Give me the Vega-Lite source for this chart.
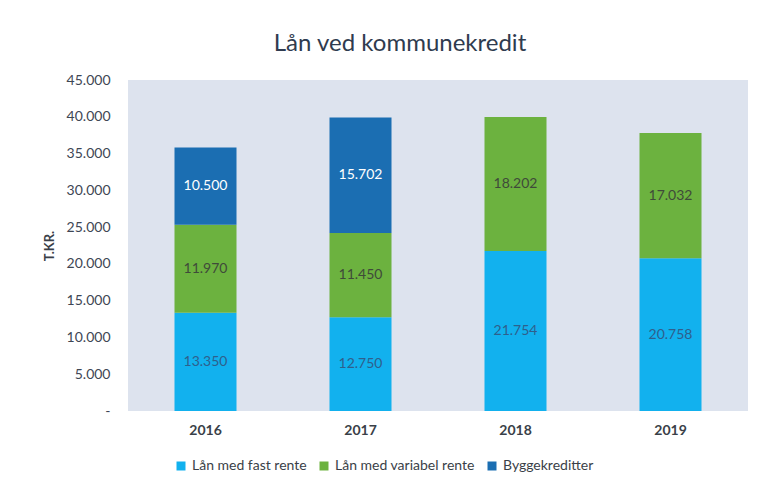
{
  "$schema": "https://vega.github.io/schema/vega-lite/v6.json",
  "autosize": {"type": "none"},
  "width": 620,
  "height": 331,
  "padding": {"left": 128, "top": 80, "right": 19, "bottom": 75},
  "background": "white",
  "config": {
    "locale": {"number": {"decimal": ",", "thousands": ".", "grouping": [3], "currency": ["", " kr."]}},
    "view": {"fill": "#dde3ee", "stroke": null},
    "font": "Lato"
  },
  "title": {
    "text": "Lån ved kommunekredit",
    "fontSize": 24,
    "font": "Lato",
    "fontWeight": "normal",
    "color": "#2f3b4f",
    "anchor": "middle",
    "frame": "group",
    "dx": -38,
    "offset": 17
  },
  "data": {
    "values": [
      {"year": "2016", "type": "Lån med fast rente", "rank": 1, "value": 13350},
      {"year": "2016", "type": "Lån med variabel rente", "rank": 2, "value": 11970},
      {"year": "2016", "type": "Byggekreditter", "rank": 3, "value": 10500},
      {"year": "2017", "type": "Lån med fast rente", "rank": 1, "value": 12750},
      {"year": "2017", "type": "Lån med variabel rente", "rank": 2, "value": 11450},
      {"year": "2017", "type": "Byggekreditter", "rank": 3, "value": 15702},
      {"year": "2018", "type": "Lån med fast rente", "rank": 1, "value": 21754},
      {"year": "2018", "type": "Lån med variabel rente", "rank": 2, "value": 18202},
      {"year": "2019", "type": "Lån med fast rente", "rank": 1, "value": 20758},
      {"year": "2019", "type": "Lån med variabel rente", "rank": 2, "value": 17032}
    ]
  },
  "encoding": {
    "x": {
      "field": "year", "type": "nominal",
      "scale": {"paddingInner": 0.6, "paddingOuter": 0.3},
      "axis": {"title": null, "labelAngle": 0, "ticks": false, "domain": false, "labelFontSize": 14, "labelFontWeight": "bold", "labelColor": "#3a3f48", "labelPadding": 12, "labelFont": "Lato"}
    },
    "y": {
      "field": "value", "type": "quantitative", "stack": "zero",
      "scale": {"domain": [0, 45000]},
      "axis": {
        "title": "T.KR.", "titleFontSize": 13, "titleFontWeight": "bold", "titleColor": "#3a3f48", "titlePadding": 10, "titleFont": "Lato",
        "values": [0, 5000, 10000, 15000, 20000, 25000, 30000, 35000, 40000, 45000],
        "labelExpr": "datum.value == 0 ? '-' : format(datum.value, ',')",
        "grid": false, "ticks": false, "domain": false,
        "labelFontSize": 14, "labelColor": "#3e4654", "labelPadding": 18, "labelFont": "Lato"
      }
    },
    "order": {"field": "rank", "type": "quantitative"}
  },
  "layer": [
    {
      "mark": {"type": "bar"},
      "encoding": {
        "color": {
          "field": "type", "type": "nominal",
          "sort": ["Lån med fast rente", "Lån med variabel rente", "Byggekreditter"],
          "scale": {"domain": ["Lån med fast rente", "Lån med variabel rente", "Byggekreditter"], "range": ["#12b1ee", "#6cb23f", "#1b6eb2"]},
          "legend": {
            "title": null, "orient": "none", "direction": "horizontal",
            "legendX": 46, "legendY": 379,
            "symbolType": "square", "symbolSize": 81, "symbolStrokeWidth": 0,
            "labelFontSize": 14, "labelColor": "#3a3f48", "labelFont": "Lato",
            "columnSpacing": 27, "labelOffset": 4
          }
        }
      }
    },
    {
      "mark": {"type": "text", "fontSize": 14, "baseline": "middle", "dy": {"expr": "(scale('y', datum.value_start) - scale('y', datum.value_end)) / 2"}},
      "encoding": {
        "text": {"field": "value", "type": "quantitative", "format": ","},
        "color": {
          "field": "type", "type": "nominal",
          "sort": ["Lån med fast rente", "Lån med variabel rente", "Byggekreditter"],
          "scale": {"domain": ["Lån med fast rente", "Lån med variabel rente", "Byggekreditter"], "range": ["#2f5f8c", "#3f4a3a", "#ffffff"]},
          "legend": null
        }
      }
    }
  ],
  "resolve": {"scale": {"color": "independent"}}
}
